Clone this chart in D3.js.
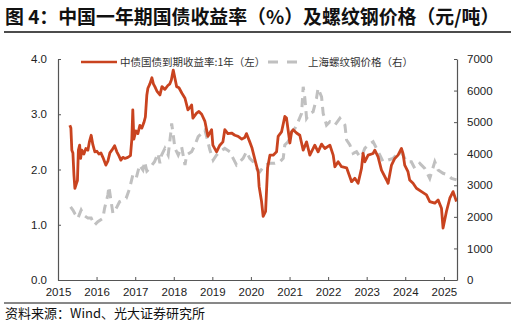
<!DOCTYPE html>
<html><head><meta charset="utf-8">
<script src="https://cdn.jsdelivr.net/npm/d3@7"></script>
<style>
html,body{margin:0;padding:0;background:#fff;}
svg{display:block;font-family:"Liberation Sans",Arial,"Noto Sans CJK SC",sans-serif;}
</style></head><body>
<svg id="c" width="516" height="325"></svg>
<script>
const titleText = "图 4：中国一年期国债收益率（%）及螺纹钢价格（元/吨）";
const sourceText = "资料来源：Wind、光大证券研究所";
const seriesNames = ["中债国债到期收益率:1年（左）", "上海螺纹钢价格（右）"];
const yearTicks = ["2015","2016","2017","2018","2019","2020","2021","2022","2023","2024","2025"];
const leftTicks = [0,1,2,3,4];
const rightTicks = [0,1000,2000,3000,4000,5000,6000,7000];

const yieldDates = ["2015-04-23","2015-05-03","2015-05-12","2015-05-22","2015-06-01","2015-06-10","2015-06-25","2015-07-04","2015-07-13","2015-07-25","2015-08-03","2015-08-15","2015-09-03","2015-09-22","2015-10-11","2015-10-25","2015-11-11","2015-11-27","2015-12-16","2016-01-04","2016-01-23","2016-02-11","2016-03-01","2016-03-29","2016-04-17","2016-05-06","2016-05-25","2016-06-20","2016-07-11","2016-07-30","2016-08-18","2016-09-06","2016-09-25","2016-10-23","2016-11-17","2016-11-30","2016-12-09","2016-12-19","2017-01-07","2017-01-26","2017-02-14","2017-03-05","2017-03-24","2017-04-07","2017-04-21","2017-05-01","2017-05-20","2017-06-08","2017-06-22","2017-07-06","2017-07-25","2017-08-23","2017-09-11","2017-10-09","2017-11-06","2017-11-25","2017-12-09","2017-12-27","2018-01-12","2018-01-28","2018-02-19","2018-03-19","2018-04-17","2018-05-15","2018-06-03","2018-06-19","2018-07-01","2018-08-05","2018-08-27","2018-09-22","2018-10-23","2018-11-20","2018-12-25","2019-01-06","2019-02-10","2019-03-13","2019-04-11","2019-04-29","2019-05-28","2019-07-02","2019-08-02","2019-09-02","2019-10-07","2019-11-04","2019-11-20","2019-12-21","2020-01-10","2020-02-08","2020-03-10","2020-03-19","2020-04-11","2020-04-26","2020-05-19","2020-06-07","2020-06-29","2020-07-30","2020-08-31","2020-09-15","2020-10-17","2020-11-17","2020-12-03","2020-12-18","2021-01-04","2021-01-20","2021-02-04","2021-03-08","2021-04-08","2021-05-10","2021-06-11","2021-07-12","2021-08-28","2021-09-28","2021-10-31","2021-12-01","2022-01-18","2022-02-18","2022-03-06","2022-04-06","2022-05-08","2022-06-25","2022-08-11","2022-09-11","2022-10-12","2022-11-13","2022-11-28","2022-12-14","2023-01-15","2023-03-03","2023-03-19","2023-04-19","2023-05-21","2023-07-08","2023-07-23","2023-08-24","2023-09-24","2023-10-25","2023-11-26","2023-12-11","2023-12-27","2024-01-27","2024-02-12","2024-03-15","2024-04-16","2024-06-03","2024-07-20","2024-08-20","2024-10-07","2024-11-07","2024-12-09","2024-12-24","2025-01-25","2025-02-26","2025-03-29","2025-04-30"];
const yieldValues = [2.80,2.75,2.35,2.30,1.90,1.66,1.75,1.80,2.35,2.44,2.20,2.35,2.28,2.38,2.35,2.50,2.62,2.45,2.32,2.33,2.28,2.30,2.22,2.08,2.15,2.30,2.35,2.43,2.32,2.25,2.17,2.22,2.20,2.22,2.25,2.55,3.08,2.55,2.70,2.65,2.80,2.75,2.85,2.95,3.35,3.47,3.55,3.66,3.55,3.50,3.42,3.35,3.50,3.45,3.52,3.55,3.62,3.80,3.65,3.50,3.48,3.38,3.29,3.08,3.12,3.17,2.93,3.02,3.05,3.00,2.87,2.60,2.72,2.44,2.32,2.44,2.50,2.72,2.65,2.66,2.62,2.60,2.55,2.58,2.65,2.50,2.40,2.18,1.95,1.69,1.42,1.15,1.24,2.03,2.26,2.26,2.32,2.60,2.68,2.96,2.93,2.72,2.48,2.68,2.72,2.66,2.62,2.35,2.50,2.26,2.44,2.32,2.46,2.38,2.44,2.26,2.05,2.14,2.05,2.03,1.78,1.84,1.75,2.02,2.29,2.14,2.26,2.29,2.35,2.23,1.99,1.81,1.75,2.08,2.20,2.26,2.38,2.29,2.08,1.96,1.81,1.75,1.66,1.60,1.54,1.42,1.39,1.45,1.30,0.94,1.24,1.48,1.60,1.42];

const steelDates = ["2015-04-30","2015-05-22","2015-06-10","2015-07-08","2015-08-08","2015-09-03","2015-10-11","2015-11-11","2015-12-13","2016-01-13","2016-03-01","2016-03-17","2016-04-17","2016-04-27","2016-05-18","2016-06-04","2016-07-05","2016-08-06","2016-09-06","2016-10-07","2016-11-09","2016-12-09","2017-01-10","2017-02-12","2017-03-15","2017-03-31","2017-04-21","2017-05-17","2017-07-03","2017-08-04","2017-08-23","2017-09-08","2017-10-09","2017-11-09","2017-12-05","2017-12-12","2017-12-27","2018-01-12","2018-02-12","2018-03-16","2018-04-17","2018-05-03","2018-06-19","2018-07-20","2018-08-20","2018-09-22","2018-10-23","2018-11-08","2018-12-09","2019-01-09","2019-02-10","2019-03-13","2019-04-29","2019-06-16","2019-07-17","2019-08-18","2019-09-18","2019-10-19","2019-11-20","2019-12-21","2020-01-22","2020-02-23","2020-03-26","2020-05-12","2020-06-29","2020-08-15","2020-10-02","2020-11-02","2020-11-17","2020-12-18","2021-01-20","2021-02-21","2021-03-23","2021-04-25","2021-05-10","2021-05-26","2021-06-11","2021-07-12","2021-08-12","2021-09-13","2021-09-28","2021-10-31","2021-11-15","2021-12-17","2022-01-18","2022-03-06","2022-04-22","2022-06-09","2022-06-25","2022-07-26","2022-08-26","2022-09-27","2022-10-28","2022-11-13","2022-12-14","2023-01-15","2023-03-03","2023-04-04","2023-05-05","2023-06-05","2023-07-23","2023-09-08","2023-10-10","2023-11-10","2023-12-11","2024-01-12","2024-02-28","2024-03-31","2024-05-18","2024-07-04","2024-08-20","2024-10-07","2024-11-07","2024-12-24","2025-02-10","2025-03-14","2025-04-30"];
const steelValues = [2320,2217,2100,1954,2217,2050,1960,1960,1742,1847,1954,2270,2692,2955,2480,2112,2270,2480,2534,2587,2903,3325,3220,3642,3484,3747,3450,3537,3747,4012,3700,3960,4170,3960,4697,4960,4590,4170,3960,4222,3642,3960,4064,4275,4539,4645,4750,4539,4117,3800,3960,4064,4170,4064,3853,3642,3747,3853,4064,3853,3747,3537,3430,3642,3695,3695,3747,3853,4275,4380,4697,4803,5013,5278,6122,5755,5120,5278,5330,5755,6070,5800,5278,4908,5013,4908,5120,4908,4433,4275,4012,4064,3905,3905,4170,4275,4380,4170,3960,3747,3800,3853,3960,4064,3960,3747,3747,3537,3695,3537,3220,3747,3484,3380,3325,3220,3170];

const parse = d3.timeParse("%Y-%m-%d");
const yieldData = yieldDates.map((d,i)=>({date:parse(d), v:yieldValues[i]}));
const steelData = steelDates.map((d,i)=>({date:parse(d), v:steelValues[i]}));

const svg = d3.select("#c");
const L = 58, R = 457, T = 59, B = 280;
const x = d3.scaleTime().domain([parse("2015-01-01"), parse("2025-05-05")]).range([L, R]);
const yL = d3.scaleLinear().domain([0,4]).range([B, T]);
const yR = d3.scaleLinear().domain([0,7000]).range([B, T]);
const red = "#c9431f", gray = "#c0c0c0", axisCol = "#555", txt = "#222";

// title
svg.append("text").attr("x",5).attr("y",24).attr("font-size",18.9).attr("font-weight","bold")
  .attr("fill","#111").attr("font-family",'"Noto Sans CJK SC",sans-serif').text(titleText);
svg.append("line").attr("x1",4).attr("x2",511).attr("y1",32).attr("y2",32).attr("stroke","#111").attr("stroke-width",1.3);

// lines
svg.append("path").datum(steelData).attr("fill","none").attr("stroke",gray).attr("stroke-width",3)
  .attr("stroke-dasharray","9,6")
  .attr("d", d3.line().x(d=>x(d.date)).y(d=>yR(d.v)));
svg.append("path").datum(yieldData).attr("fill","none").attr("stroke",red).attr("stroke-width",2.8)
  .attr("stroke-linejoin","round")
  .attr("d", d3.line().x(d=>x(d.date)).y(d=>yL(d.v)));

// axes
const axL = d3.axisLeft(yL).tickValues(leftTicks).tickFormat(d3.format(".1f")).tickSizeInner(-3).tickSizeOuter(0).tickPadding(11);
const gL = svg.append("g").attr("transform",`translate(${L},0)`).call(axL);
const axR = d3.axisRight(yR).tickValues(rightTicks).tickFormat(d3.format("d")).tickSizeInner(-3).tickSizeOuter(0).tickPadding(10);
const gR = svg.append("g").attr("transform",`translate(${R},0)`).call(axR);
const yearDates = yearTicks.map(y=>parse(y+"-01-01"));
const axB = d3.axisBottom(x).tickValues(yearDates).tickFormat(d3.timeFormat("%Y")).tickSizeInner(-3).tickSizeOuter(0).tickPadding(8);
const gB = svg.append("g").attr("transform",`translate(0,${B})`).call(axB);
[gL,gR,gB].forEach(g=>{
  g.select(".domain").attr("stroke",axisCol).attr("stroke-width",1.2);
  g.selectAll(".tick line").attr("stroke",axisCol);
  g.selectAll(".tick text").attr("fill",txt).attr("font-size",11.5).attr("font-family",'"Liberation Sans",Arial,sans-serif');
});

// legend
const lg = svg.append("g");
lg.append("line").attr("x1",81).attr("x2",117).attr("y1",62).attr("y2",62).attr("stroke",red).attr("stroke-width",2.6);
lg.append("text").attr("x",120).attr("y",66).attr("font-size",10.5).attr("fill","#333")
  .attr("font-family",'"Noto Sans CJK SC",sans-serif').text(seriesNames[0]);
lg.append("line").attr("x1",268).attr("x2",298).attr("y1",62).attr("y2",62).attr("stroke",gray).attr("stroke-width",3).attr("stroke-dasharray","10,9");
lg.append("text").attr("x",308).attr("y",66).attr("font-size",10.5).attr("fill","#333")
  .attr("font-family",'"Noto Sans CJK SC",sans-serif').text(seriesNames[1]);

// source
svg.append("line").attr("x1",4).attr("x2",511).attr("y1",303).attr("y2",303).attr("stroke","#111").attr("stroke-width",1);
svg.append("text").attr("x",5).attr("y",318).attr("font-size",13).attr("fill","#111")
  .attr("font-family",'"Noto Sans CJK SC",sans-serif').text(sourceText);
</script></body></html>
